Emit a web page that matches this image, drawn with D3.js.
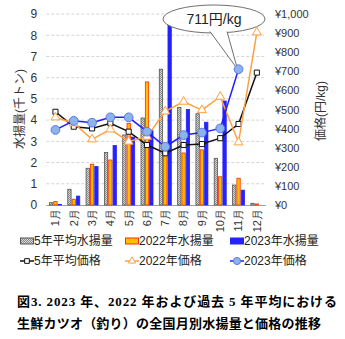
<!DOCTYPE html>
<html>
<head>
<meta charset="utf-8">
<script src="https://cdn.jsdelivr.net/npm/d3@7"></script>
<style>
  body { margin: 0; background: #fff; }
  svg { display: block; font-family: "Liberation Sans", "Noto Sans CJK JP", sans-serif; }
</style>
</head>
<body>
<svg id="chart" width="345" height="339"></svg>
<script>
// Data
const months = ["1月", "2月", "3月", "4月", "5月", "6月", "7月", "8月", "9月", "10月", "11月", "12月"];
const avgCatch = [0.11, 0.74, 1.73, 2.47, 3.3, 4.1, 6.4, 4.6, 4.3, 2.2, 0.94, 0.08];
const catch2022 = [0.16, 0.27, 1.92, 2.12, 3.85, 5.8, 2.7, 2.45, 2.6, 1.33, 1.26, 0.05];
const catch2023 = [0.03, 0.42, 1.81, 2.8, 3.2, 3.5, 8.55, 4.5, 3.9, 4.9, 0.7, 0];
const avgPrice = [488, 410, 401, 428, 384, 314, 271, 314, 319, 350, 424, 693];
const price2022 = [459, 428, 344, 396, 332, 358, 490, 541, 497, 567, 328, 904];
const price2023 = [393, 441, 431, 459, 459, 384, 305, 366, 379, 401, 711, null];
const catchTicks = [0, 1, 2, 3, 4, 5, 6, 7, 8, 9];
const priceTicks = [0, 100, 200, 300, 400, 500, 600, 700, 800, 900, 1000];
const calloutLabel = "711円/kg";
const titleLines = ["図3. 2023 年、2022 年および過去 5 年平均における", "生鮮カツオ（釣り）の全国月別水揚量と価格の推移"];

const svg = d3.select("#chart");

// Scales
const plotL = 46.3, plotR = 266, plotT = 14, plotB = 205;
const x = d3.scaleBand().domain(months).range([plotL, plotR]).paddingInner(0.29).paddingOuter(0.145);
const sub = d3.scaleBand().domain([0, 1, 2]).range([0, x.bandwidth()]);
const yL = d3.scaleLinear().domain([0, 9]).range([plotB, plotT]);
const yR = d3.scaleLinear().domain([0, 1000]).range([plotB, plotT]);
const cx = m => x(m) + x.bandwidth() / 2;

// Texture for the 5-year average bars
const defs = svg.append("defs");
const pat = defs.append("pattern").attr("id", "dots")
  .attr("width", 2).attr("height", 2).attr("patternUnits", "userSpaceOnUse");
pat.append("rect").attr("width", 2).attr("height", 2).attr("fill", "#d8d8d8");
pat.append("rect").attr("width", 1).attr("height", 1).attr("fill", "#8a8a8a");
pat.append("rect").attr("x", 1).attr("y", 1).attr("width", 1).attr("height", 1).attr("fill", "#8a8a8a");

// Gridlines
svg.append("g").selectAll("line")
  .data(catchTicks.slice(1))
  .join("line")
  .attr("x1", plotL).attr("x2", plotR)
  .attr("y1", d => yL(d)).attr("y2", d => yL(d))
  .attr("stroke", "#d4d4d4").attr("stroke-dasharray", "3,2");

// Left axis
const axL = svg.append("g").attr("transform", `translate(${plotL},0)`)
  .call(d3.axisLeft(yL).tickValues(catchTicks).tickSize(0).tickPadding(9));
axL.select(".domain").remove();
axL.selectAll("text").attr("font-size", 12).attr("fill", "#333");

// Right axis
const axR = svg.append("g").attr("transform", `translate(${plotR},0)`)
  .call(d3.axisRight(yR).tickValues(priceTicks).tickSize(0).tickPadding(9)
    .tickFormat(d => "¥" + d3.format(",")(d)));
axR.select(".domain").remove();
axR.selectAll("text").attr("font-size", 11).attr("fill", "#333");

// Bottom axis with rotated month labels
const axB = svg.append("g").attr("transform", `translate(0,${plotB})`)
  .call(d3.axisBottom(x).tickSize(0));
axB.select(".domain").attr("stroke", "#a0a0a0").attr("d", `M${plotL},0.5H${plotR}`);
axB.selectAll("text")
  .attr("transform", "rotate(-90)")
  .attr("text-anchor", "end")
  .attr("x", -4).attr("y", 0).attr("dy", "0.35em")
  .attr("font-size", 11).attr("fill", "#333");

// Axis titles
svg.append("text").attr("transform", "translate(21,109) rotate(-90)")
  .attr("text-anchor", "middle").attr("dominant-baseline", "middle")
  .attr("font-size", 12).attr("fill", "#333").text("水揚量(千トン)");
svg.append("text").attr("transform", "translate(322,111) rotate(-90)")
  .attr("text-anchor", "middle").attr("dominant-baseline", "middle")
  .attr("font-size", 12).attr("fill", "#333").text("価格(円/kg)");

// Bars
const barSeries = [
  { values: avgCatch, fill: "url(#dots)", stroke: "#555" },
  { values: catch2022, fill: "#ffc000", stroke: "#ff2a00" },
  { values: catch2023, fill: "#2323ff", stroke: "#2323ff" }
];
barSeries.forEach((s, i) => {
  svg.append("g").selectAll("rect")
    .data(months.map((m, j) => ({ m, v: s.values[j] })).filter(d => d.v > 0))
    .join("rect")
    .attr("x", d => x(d.m) + sub(i) + 0.5)
    .attr("width", sub.bandwidth() - 1)
    .attr("y", d => yL(d.v))
    .attr("height", d => plotB - yL(d.v))
    .attr("fill", s.fill).attr("stroke", s.stroke).attr("stroke-width", 0.8);
});

// Callout
const tip = [cx("11月"), yR(711)];
const cg = svg.append("g");
cg.append("ellipse").attr("cx", 214).attr("cy", 19).attr("rx", 51).attr("ry", 14)
  .attr("fill", "#fff").attr("stroke", "#707070");
cg.append("path").attr("d", `M210,31.5L${tip[0] - 1},${tip[1]}L227,31.5`)
  .attr("fill", "#fff").attr("stroke", "#707070");
cg.append("text").attr("x", 214).attr("y", 19).attr("dy", "0.35em")
  .attr("text-anchor", "middle").attr("font-size", 14).attr("fill", "#222").text(calloutLabel);

// Price lines
const lineSeries = [
  { values: avgPrice, color: "#111", marker: "square", fill: "#fff" },
  { values: price2022, color: "#ffa040", marker: "triangle", fill: "#fff" },
  { values: price2023, color: "#1e1eff", marker: "circle", fill: "#8db4ea" }
];
const symbols = { square: d3.symbolSquare, triangle: d3.symbolTriangle, circle: d3.symbolCircle };
const sizes = { square: 26, triangle: 34, circle: 60 };

lineSeries.forEach(s => {
  const pts = months.map((m, j) => ({ m, v: s.values[j] })).filter(d => d.v != null);
  svg.append("path").datum(pts)
    .attr("d", d3.line().x(d => cx(d.m)).y(d => yR(d.v)))
    .attr("fill", "none").attr("stroke", s.color).attr("stroke-width", 1.5);
  svg.append("g").selectAll("path")
    .data(pts)
    .join("path")
    .attr("transform", d => `translate(${cx(d.m)},${yR(d.v)})`)
    .attr("d", d3.symbol(symbols[s.marker], sizes[s.marker]))
    .attr("fill", s.fill)
    .attr("stroke", s.marker === "circle" ? "#5a78e6" : s.color).attr("stroke-width", 1);
});

// Legend
const legendItems = [
  { label: "5年平均水揚量", type: "bar", fill: "url(#dots)", stroke: "#555", x: 20, y: 241 },
  { label: "2022年水揚量", type: "bar", fill: "#ffc000", stroke: "#ff2a00", x: 125, y: 241 },
  { label: "2023年水揚量", type: "bar", fill: "#2323ff", stroke: "#2323ff", x: 230, y: 241 },
  { label: "5年平均価格", type: "square", color: "#111", fill: "#fff", x: 20, y: 261 },
  { label: "2022年価格", type: "triangle", color: "#ffa040", fill: "#fff", x: 125, y: 261 },
  { label: "2023年価格", type: "circle", color: "#1e1eff", fill: "#8db4ea", x: 230, y: 261 }
];
const lg = svg.append("g").selectAll("g").data(legendItems).join("g")
  .attr("transform", d => `translate(${d.x},${d.y})`);
lg.filter(d => d.type === "bar").append("rect")
  .attr("x", 0.5).attr("y", -3).attr("width", 13).attr("height", 6)
  .attr("fill", d => d.fill).attr("stroke", d => d.stroke);
lg.filter(d => d.type !== "bar").append("line")
  .attr("x1", 0).attr("x2", 14).attr("stroke", d => d.color).attr("stroke-width", 1.5);
lg.filter(d => d.type !== "bar").append("path")
  .attr("transform", "translate(7,0)")
  .attr("d", d => d3.symbol(symbols[d.type], d.type === "circle" ? 40 : 22)())
  .attr("fill", d => d.fill)
  .attr("stroke", d => d.type === "circle" ? "#5a78e6" : d.color);
lg.append("text").attr("x", 14).attr("dy", "0.36em")
  .attr("font-size", 12).attr("fill", "#222").text(d => d.label);

// Title
svg.append("g").selectAll("text").data(titleLines).join("text")
  .attr("x", 17).attr("y", (d, i) => 306 + i * 22)
  .attr("font-family", "'Liberation Serif', 'Noto Sans CJK JP', serif")
  .attr("font-weight", "bold").attr("font-size", 13).attr("fill", "#000")
  .attr("textLength", (d, i) => i === 0 ? 320 : 304)
  .attr("lengthAdjust", "spacing")
  .text(d => d);
</script>
</body>
</html>
